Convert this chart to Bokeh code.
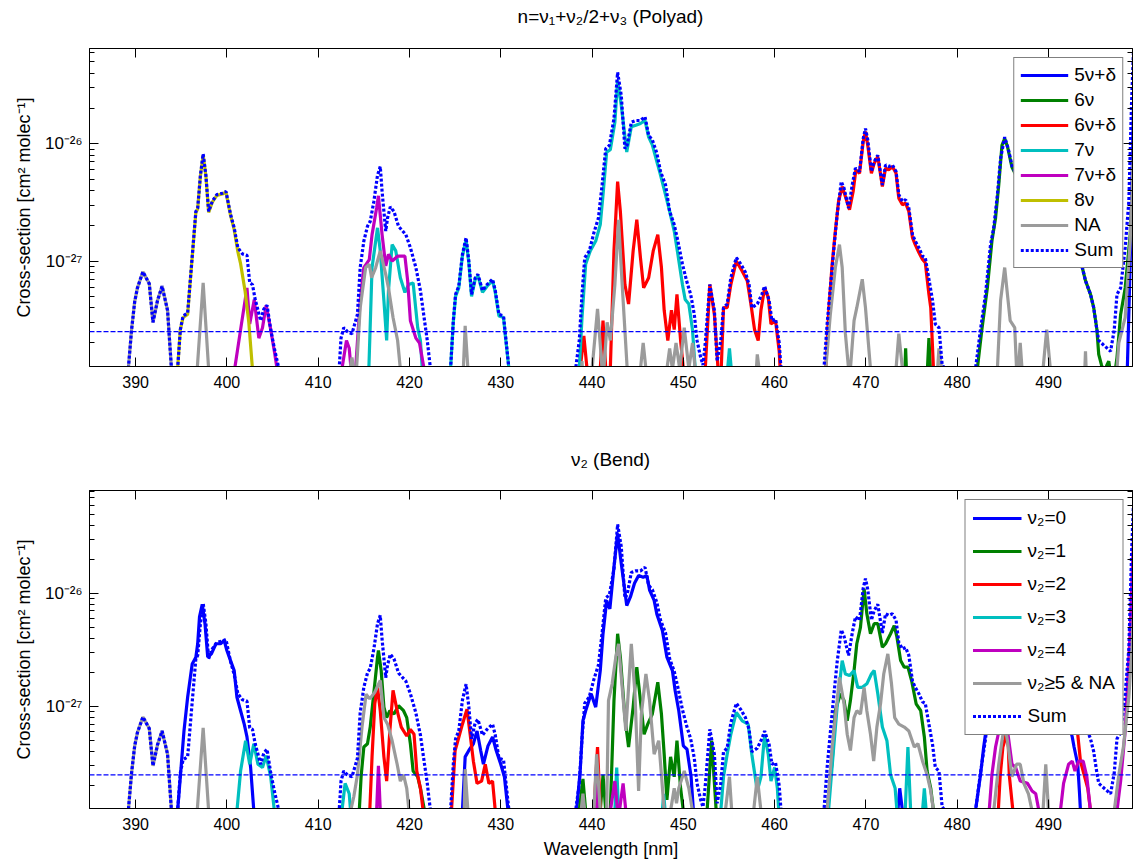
from bokeh.plotting import figure
from bokeh.models import Range1d, FixedTicker, LinearAxis, LogAxis, Span, Div
from bokeh.layouts import column
from bokeh.embed import file_html
from bokeh.resources import INLINE

FONT = "Liberation Sans"
UNIT = 1e-27  # values below are in units of 1e-27 cm^2 molec^-1

X_TICKS = [390, 400, 410, 420, 430, 440, 450, 460, 470, 480, 490]
Y_MAJOR = [1e-27, 1e-26]
Y_MINOR = [k * 1e-28 for k in range(2, 10)] + [k * 1e-27 for k in range(2, 10)] + [k * 1e-26 for k in range(2, 10)]
Y_LABELS = {1e-27: "10⁻²⁷", 1e-26: "10⁻²⁶"}
THRESHOLD = 2.5e-28

# ---------------- Sum (same in both panels) ----------------
SUM = [
    (389.0, 0.05), (389.2, 0.12), (389.56, 0.26), (389.9, 0.45), (390.2, 0.59), (390.8, 0.81), (391.5, 0.64),
    (391.9, 0.30), (392.4, 0.46), (392.9, 0.61), (393.5, 0.38), (393.9, 0.13), (394.25, 0.05),
    (394.6, 0.12), (394.9, 0.26), (395.2, 0.34), (395.7, 0.36), (396.1, 0.88), (396.6, 2.65), (396.8, 2.83),
    (397.1, 5.4), (397.4, 8.2), (397.7, 5.4), (398.0, 2.65), (398.4, 3.23), (398.9, 3.69), (399.5, 3.79),
    (399.9, 3.92), (400.4, 2.5), (400.8, 1.92), (401.2, 1.30), (401.7, 1.15), (402.2, 1.12), (402.5, 0.65),
    (402.8, 0.63), (403.1, 0.47), (403.7, 0.31), (404.05, 0.39), (404.4, 0.42), (404.8, 0.26), (405.2, 0.18),
    (405.7, 0.12), (406.0, 0.05),
    (412.0, 0.05), (412.3, 0.12), (412.5, 0.22), (412.8, 0.27), (413.2, 0.25), (413.7, 0.24), (414.3, 0.35),
    (414.6, 0.88), (415.0, 1.48), (415.4, 1.98), (415.7, 2.18), (416.1, 3.23), (416.5, 5.4), (416.8, 6.4),
    (417.0, 3.92), (417.4, 1.80), (417.6, 2.33), (417.9, 2.9), (418.3, 2.65), (418.8, 1.98), (419.6, 1.68),
    (420.1, 1.30), (420.7, 0.88), (421.2, 0.56), (421.6, 0.33), (421.95, 0.21), (422.3, 0.12), (422.6, 0.05),
    (424.2, 0.05), (424.5, 0.12), (424.8, 0.31), (425.05, 0.52), (425.4, 0.61), (425.8, 1.14), (426.2, 1.58),
    (426.5, 1.0), (426.8, 0.52), (427.2, 0.72), (427.5, 0.77), (428.0, 0.56), (428.5, 0.63), (429.1, 0.70),
    (429.4, 0.56), (429.8, 0.35), (430.3, 0.34), (430.5, 0.24), (430.9, 0.12), (431.2, 0.05),
    (437.9, 0.05), (438.2, 0.12), (438.6, 0.21), (438.9, 0.52), (439.2, 1.07), (439.7, 1.22), (440.2, 1.74),
    (440.7, 2.33), (441.1, 4.46), (441.5, 9.1), (441.9, 9.7), (442.4, 16.4), (442.8, 40.7), (443.2, 25.8),
    (443.6, 9.1), (443.85, 9.8), (444.3, 15.3), (444.8, 15.8), (445.3, 15.8), (445.8, 17.0), (446.2, 11.8),
    (446.6, 10.8), (447.1, 8.3), (447.5, 5.8), (448.05, 4.46), (448.5, 2.65), (449.0, 2.05), (449.4, 1.48),
    (449.9, 0.94), (450.35, 0.68), (450.8, 0.52), (451.2, 0.35), (451.5, 0.21), (451.9, 0.15), (452.15, 0.13),
    (452.4, 0.2), (452.9, 0.63), (453.4, 0.38), (453.7, 0.14), (454.1, 0.21), (454.4, 0.40), (454.8, 0.43),
    (455.2, 0.72), (455.8, 1.07), (456.3, 0.94), (456.8, 0.80), (457.2, 0.63), (457.5, 0.40), (458.1, 0.43),
    (458.6, 0.52), (458.9, 0.61), (459.4, 0.46), (459.7, 0.31), (460.1, 0.32), (460.5, 0.20), (460.7, 0.12),
    (461.0, 0.05),
    (465.1, 0.05), (465.4, 0.12), (465.75, 0.29), (466.1, 0.59), (466.5, 1.30), (466.85, 2.49), (467.3, 4.76),
    (467.6, 4.18), (468.1, 2.83), (468.5, 4.46), (468.85, 6.2), (469.3, 5.8), (469.7, 11.1), (469.95, 13.5),
    (470.2, 10.8), (470.6, 5.8), (470.9, 7.03), (471.3, 8.0), (471.8, 4.46), (472.15, 6.6), (472.5, 6.4),
    (472.9, 6.6), (473.3, 5.8), (473.6, 3.67), (474.0, 3.23), (474.35, 3.33), (474.7, 2.83), (475.1, 1.68),
    (475.4, 1.48), (475.8, 1.30), (476.2, 1.10), (476.5, 1.07), (476.9, 0.70), (477.3, 0.46), (477.6, 0.29),
    (478.0, 0.27), (478.35, 0.13), (478.7, 0.12), (479.0, 0.05),
    (481.7, 0.05), (482.0, 0.12), (482.55, 0.26), (483.1, 0.52), (483.65, 1.38), (484.0, 1.92), (484.4, 3.67),
    (484.75, 7.5), (485.2, 11.4), (485.6, 9.0), (486.0, 6.5), (487.0, 4.5), (488.0, 3.3), (489.0, 2.6),
    (490.0, 2.1), (491.0, 1.7), (492.0, 1.4), (493.0, 1.1), (493.7, 0.88), (494.05, 0.68), (494.6, 0.52),
    (494.95, 0.40), (495.3, 0.26), (495.5, 0.21), (496.1, 0.19), (496.8, 0.17), (497.2, 0.26), (497.5, 0.52),
    (497.9, 0.59), (498.4, 1.30), (498.8, 3.23), (499.1, 22.7), (499.3, 60.0),
]

# ---------------- Top panel: polyad ----------------
P_5NU_D = [(498.5, 0.05), (498.85, 0.5), (499.1, 3.0), (499.3, 20.0)]

P_6NU = [
    (474.1, 0.05), (474.35, 0.18), (474.6, 0.05), (476.5, 0.05), (476.9, 0.22), (477.3, 0.05),
    (481.9, 0.05), (482.2, 0.12), (482.7, 0.26), (483.3, 0.59), (483.8, 1.48), (484.2, 2.33), (484.55, 4.46),
    (484.9, 9.7), (485.2, 11.1), (485.5, 9.5), (486.0, 6.3), (487.0, 4.4), (488.0, 3.2), (489.0, 2.5),
    (490.0, 2.0), (491.0, 1.6), (492.0, 1.3), (493.0, 1.05), (493.7, 0.88), (494.05, 0.68), (494.6, 0.52),
    (494.95, 0.40), (495.3, 0.26), (495.5, 0.16), (495.8, 0.13), (496.1, 0.11), (496.4, 0.13), (496.6, 0.14),
    (496.8, 0.11), (497.2, 0.10), (497.5, 0.15), (497.9, 0.35), (498.4, 0.59), (498.95, 1.68), (499.3, 6.0),
]

P_6NU_D = [
    (438.4, 0.05), (438.7, 0.12), (439.1, 0.23), (439.45, 0.12), (439.7, 0.05),
    (440.8, 0.05), (440.9, 0.12), (441.2, 0.31), (441.5, 0.12), (441.8, 0.05),
    (442.0, 0.12), (442.4, 1.22), (442.8, 4.76), (443.1, 2.65), (443.6, 0.63), (444.0, 0.43), (444.5, 1.22),
    (444.9, 2.25), (445.3, 1.07), (445.65, 0.59), (446.2, 0.72), (446.7, 1.22), (447.2, 1.68), (447.6, 0.88),
    (447.9, 0.38), (448.3, 0.21), (448.7, 0.38), (449.0, 0.26), (449.3, 0.52), (449.7, 0.21), (450.0, 0.12),
    (450.2, 0.05),
    (452.2, 0.05), (452.4, 0.12), (452.9, 0.63), (453.4, 0.35), (453.8, 0.12), (453.95, 0.08), (454.15, 0.12),
    (454.4, 0.40), (454.8, 0.40), (455.2, 0.63), (455.8, 1.0), (456.45, 0.82), (457.0, 0.68), (457.4, 0.43),
    (457.8, 0.26), (458.2, 0.21), (458.5, 0.38), (458.9, 0.59), (459.3, 0.49), (459.6, 0.29), (460.1, 0.31),
    (460.5, 0.17), (460.6, 0.12), (460.9, 0.05),
    (465.3, 0.05), (465.6, 0.12), (465.95, 0.40), (466.3, 0.94), (466.65, 1.80), (467.0, 3.23), (467.4, 4.32),
    (467.75, 3.55), (468.2, 2.74), (468.6, 3.92), (468.9, 6.0), (469.3, 5.6), (469.7, 10.4), (469.95, 12.7),
    (470.2, 9.7), (470.6, 5.6), (470.9, 6.8), (471.3, 7.8), (471.8, 4.32), (472.15, 6.2), (472.5, 6.0),
    (472.9, 6.4), (473.3, 5.6), (473.6, 3.44), (474.0, 3.02), (474.35, 3.12), (474.7, 2.65), (475.1, 1.58),
    (475.4, 1.38), (475.8, 1.18), (476.2, 1.03), (476.5, 0.97), (476.9, 0.52), (477.1, 0.40), (477.4, 0.12),
    (477.6, 0.05),
]

P_7NU = [
    (415.4, 0.05), (415.55, 0.12), (415.9, 0.88), (416.3, 1.48), (416.5, 1.92), (416.8, 1.22), (417.2, 0.46),
    (417.5, 0.21), (417.7, 0.56), (418.1, 1.38), (418.5, 1.22), (419.0, 0.72), (419.5, 0.54), (419.9, 0.63),
    (420.4, 0.65), (420.9, 0.27), (421.2, 0.21), (421.4, 0.12), (421.6, 0.05),
    (424.3, 0.05), (424.5, 0.12), (424.8, 0.30), (425.05, 0.50), (425.4, 0.59), (425.8, 1.10), (426.2, 1.52),
    (426.5, 0.97), (426.8, 0.50), (427.2, 0.70), (427.5, 0.75), (428.0, 0.54), (428.5, 0.61), (429.1, 0.68),
    (429.4, 0.54), (429.8, 0.34), (430.3, 0.33), (430.5, 0.23), (430.9, 0.12), (431.1, 0.05),
    (438.4, 0.05), (438.6, 0.12), (438.9, 0.33), (439.3, 0.94), (439.8, 1.22), (440.4, 1.48), (440.9, 2.05),
    (441.2, 3.67), (441.6, 8.5), (442.0, 8.9), (442.5, 15.3), (442.8, 34.6), (443.2, 21.3), (443.8, 8.5),
    (444.3, 14.0), (444.8, 14.4), (445.3, 14.9), (445.8, 15.8), (446.2, 11.4), (446.6, 9.8), (447.2, 6.6),
    (447.5, 5.4), (448.05, 3.67), (448.5, 2.65), (449.0, 1.80), (449.4, 1.14), (449.9, 0.63), (450.2, 0.47),
    (450.6, 0.43), (451.0, 0.26), (451.3, 0.12), (451.5, 0.05),
    (454.7, 0.05), (454.85, 0.12), (455.05, 0.18), (455.25, 0.12), (455.4, 0.05),
]

P_7NU_D = [
    (400.6, 0.05), (400.85, 0.12), (401.5, 0.26), (402.2, 0.59), (402.5, 0.29), (403.0, 0.47), (403.5, 0.22),
    (403.9, 0.27), (404.3, 0.42), (404.8, 0.26), (405.2, 0.17), (405.5, 0.12), (405.7, 0.05),
    (412.4, 0.05), (412.6, 0.12), (413.1, 0.21), (413.4, 0.18), (413.6, 0.12), (413.8, 0.05), (413.95, 0.05),
    (414.1, 0.12), (414.6, 0.46), (415.0, 0.88), (415.6, 1.03), (415.9, 1.68), (416.4, 2.83), (416.6, 3.6),
    (417.0, 1.68), (417.4, 0.91), (417.7, 1.14), (418.1, 1.0), (418.7, 1.10), (419.5, 1.10), (419.8, 0.68),
    (420.1, 0.31), (420.7, 0.22), (421.1, 0.20), (421.6, 0.12), (421.8, 0.05),
]

P_8NU = [
    (394.4, 0.05), (394.6, 0.12), (394.9, 0.26), (395.2, 0.33), (395.7, 0.35), (396.1, 0.86), (396.6, 2.6),
    (396.8, 2.78), (397.1, 5.3), (397.4, 8.0), (397.7, 5.3), (398.0, 2.6), (398.4, 3.18), (398.9, 3.63),
    (399.5, 3.73), (399.9, 3.86), (400.4, 2.45), (400.8, 1.85), (401.2, 1.20), (401.5, 0.95), (402.0, 0.55),
    (402.4, 0.30), (402.8, 0.12), (403.0, 0.05),
]

P_NA = [
    (389.0, 0.05), (389.2, 0.12), (389.56, 0.26), (389.9, 0.45), (390.2, 0.59), (390.8, 0.81), (391.5, 0.64),
    (391.9, 0.30), (392.4, 0.46), (392.9, 0.61), (393.5, 0.38), (393.9, 0.13), (394.1, 0.05),
    (396.5, 0.05), (396.75, 0.12), (397.4, 0.65), (398.0, 0.12), (398.2, 0.05),
    (413.3, 0.05), (413.5, 0.12), (413.7, 0.15), (413.9, 0.12), (414.2, 0.12), (414.6, 0.40), (415.2, 0.88),
    (415.6, 0.94), (415.85, 0.72), (416.3, 0.88), (416.8, 1.22), (417.4, 0.77), (417.7, 0.59), (418.2, 0.33),
    (418.7, 0.21), (419.0, 0.12), (419.2, 0.05),
    (425.7, 0.05), (425.9, 0.12), (426.1, 0.28), (426.4, 0.12), (426.6, 0.05),
    (438.7, 0.05), (438.9, 0.14), (439.2, 0.05),
    (439.8, 0.05), (440.0, 0.12), (440.6, 0.39), (441.1, 0.12), (441.3, 0.12), (441.65, 0.30), (442.0, 0.21),
    (442.5, 0.63), (442.9, 2.25), (443.3, 0.63), (443.85, 0.12), (444.0, 0.05),
    (445.1, 0.05), (445.3, 0.12), (445.6, 0.20), (445.9, 0.12), (446.1, 0.05),
    (448.0, 0.05), (448.2, 0.12), (448.5, 0.18), (448.8, 0.12), (449.2, 0.20), (449.6, 0.12), (450.1, 0.27),
    (450.6, 0.12), (451.0, 0.20), (451.3, 0.12), (451.5, 0.05),
    (457.8, 0.05), (458.0, 0.12), (458.1, 0.16), (458.3, 0.12), (458.5, 0.05),
    (465.4, 0.05), (465.6, 0.12), (466.1, 0.35), (466.65, 0.88), (467.1, 1.38), (467.4, 0.88), (467.75, 0.24),
    (468.1, 0.12), (468.3, 0.12), (468.7, 0.31), (469.0, 0.40), (469.6, 0.70), (469.95, 0.40), (470.5, 0.12),
    (470.7, 0.05),
    (473.1, 0.05), (473.3, 0.12), (473.6, 0.24), (474.0, 0.12), (474.2, 0.05),
    (477.8, 0.05), (477.85, 0.12), (478.0, 0.18), (478.3, 0.12), (478.5, 0.05),
    (484.2, 0.05), (484.4, 0.12), (484.75, 0.46), (485.2, 0.88), (485.5, 0.52), (485.8, 0.31), (486.3, 0.27),
    (486.5, 0.12), (486.7, 0.12), (486.9, 0.20), (487.1, 0.12), (487.3, 0.05),
    (489.2, 0.05), (489.4, 0.12), (489.8, 0.26), (490.2, 0.12), (490.4, 0.05),
    (493.8, 0.05), (494.05, 0.17), (494.3, 0.05),
    (497.2, 0.05), (497.5, 0.12), (497.7, 0.20), (498.4, 0.33), (498.95, 1.48), (499.3, 10.0),
]

# ---------------- Bottom panel: bend quantum number ----------------
B_V0 = [
    (394.4, 0.05), (394.6, 0.12), (394.9, 0.24), (395.3, 0.61), (395.7, 1.21), (396.2, 2.38), (396.6, 2.73),
    (396.8, 3.59), (397.0, 6.2), (397.3, 8.0), (397.6, 5.4), (397.9, 2.73), (398.3, 2.92), (398.8, 3.59),
    (399.3, 3.59), (399.7, 3.84), (400.0, 3.13), (400.4, 2.55), (400.8, 2.08), (401.1, 1.21), (401.5, 0.92),
    (401.9, 0.70), (402.2, 0.54), (402.6, 0.29), (402.95, 0.12), (403.1, 0.05),
    (425.6, 0.05), (425.8, 0.12), (426.1, 0.36), (426.5, 0.41), (427.0, 0.47), (427.4, 0.61), (427.8, 0.41),
    (428.1, 0.31), (428.6, 0.45), (429.1, 0.54), (429.5, 0.41), (430.0, 0.31), (430.4, 0.24), (430.8, 0.12),
    (431.0, 0.05),
    (438.1, 0.05), (438.3, 0.12), (438.7, 0.27), (439.0, 0.75), (439.3, 0.92), (439.9, 1.30), (440.4, 0.99),
    (440.9, 2.08), (441.2, 4.4), (441.6, 8.66), (441.95, 7.3), (442.4, 17.1), (442.8, 33.8), (443.2, 18.3),
    (443.8, 7.8), (444.2, 9.3), (444.65, 12.3), (445.1, 14.4), (445.6, 13.9), (446.0, 14.4), (446.3, 10.7),
    (446.8, 8.66), (447.1, 6.55), (447.7, 4.70), (448.2, 2.73), (448.8, 2.08), (449.1, 1.39), (449.5, 0.92),
    (450.0, 0.45), (450.4, 0.42), (450.85, 0.24), (451.1, 0.12), (451.3, 0.05),
    (473.4, 0.05), (473.5, 0.12), (473.7, 0.19), (474.0, 0.12), (474.2, 0.05),
    (481.8, 0.05), (482.0, 0.12), (482.55, 0.25), (482.9, 0.44), (483.3, 0.75), (483.8, 1.2), (484.5, 2.0),
    (485.2, 2.5), (486.0, 2.2), (487.0, 1.8), (488.0, 1.5), (489.0, 1.3), (490.0, 1.2), (491.0, 1.0),
    (492.0, 0.8), (492.6, 0.54), (492.8, 0.44), (493.2, 0.31), (493.4, 0.17), (493.5, 0.12), (493.7, 0.05),
]

B_V1 = [
    (414.3, 0.05), (414.5, 0.12), (414.7, 0.24), (415.0, 0.44), (415.4, 0.47), (415.7, 0.66), (416.2, 1.59),
    (416.5, 2.73), (416.6, 3.13), (416.9, 2.08), (417.2, 0.99), (417.5, 0.80), (417.85, 0.92), (418.3, 0.86),
    (418.8, 1.02), (419.35, 0.92), (419.7, 0.80), (420.1, 0.47), (420.4, 0.27), (420.9, 0.24), (421.2, 0.19),
    (421.65, 0.12), (421.8, 0.05),
    (438.4, 0.05), (438.6, 0.12), (439.0, 0.23), (439.3, 0.12), (439.5, 0.05),
    (440.7, 0.05), (440.9, 0.12), (441.2, 0.25), (441.5, 0.12), (441.7, 0.05), (441.9, 0.08),
    (442.0, 0.12), (442.4, 1.13), (442.8, 4.4), (443.1, 2.73), (443.6, 0.80), (444.0, 0.44), (444.5, 0.99),
    (444.9, 2.23), (445.3, 1.13), (445.7, 0.57), (446.1, 0.70), (446.6, 0.86), (447.2, 1.64), (447.6, 0.86),
    (447.9, 0.38), (448.2, 0.15), (448.6, 0.36), (449.0, 0.24), (449.3, 0.50), (449.7, 0.19), (450.0, 0.12),
    (450.2, 0.05),
    (452.4, 0.05), (452.6, 0.12), (453.1, 0.50), (453.6, 0.12), (453.8, 0.05),
    (465.6, 0.05), (465.75, 0.12), (466.3, 0.33), (466.65, 0.92), (467.2, 1.30), (467.6, 1.13), (467.95, 0.75),
    (468.3, 1.13), (468.7, 2.08), (469.0, 3.59), (469.4, 5.0), (469.8, 11.0), (470.1, 6.6), (470.5, 4.40),
    (470.9, 5.4), (471.3, 5.4), (471.8, 3.35), (472.15, 3.59), (472.7, 4.40), (473.1, 5.2), (473.4, 4.1),
    (473.8, 2.55), (474.2, 2.23), (474.6, 2.23), (475.0, 1.70), (475.5, 1.06), (476.0, 0.92), (476.4, 0.54),
    (476.7, 0.27), (477.1, 0.19), (477.4, 0.12), (477.6, 0.05),
]

# None marks a break in the line (the trace continues hidden behind the legend)
B_V2 = [
    (415.5, 0.05), (415.65, 0.12), (415.9, 0.36), (416.2, 1.06), (416.5, 1.48), (416.8, 0.92), (417.2, 0.36),
    (417.5, 0.22), (417.85, 0.61), (418.2, 1.39), (418.65, 0.92), (419.1, 0.66), (419.7, 0.55), (420.1, 0.63),
    (420.5, 0.57), (420.8, 0.27), (421.2, 0.19), (421.5, 0.12), (421.7, 0.05),
    (424.4, 0.05), (424.6, 0.12), (425.0, 0.41), (425.3, 0.50), (425.8, 0.70), (426.3, 0.95), (426.6, 0.61),
    (427.0, 0.33), (427.4, 0.21), (427.9, 0.22), (428.3, 0.31), (428.7, 0.21), (429.1, 0.22), (429.4, 0.12),
    (429.6, 0.05),
    (440.0, 0.05), (440.2, 0.12), (440.6, 0.44), (440.9, 0.12), (441.1, 0.05),
    (484.3, 0.05), (484.5, 0.12), (484.7, 0.24), (485.0, 0.44), (485.2, 0.50), (485.4, 0.6), (485.6, 0.44),
    (485.7, 0.25), (486.1, 0.12), (486.3, 0.05),
    (489.0, None),
    (492.2, 2.0), (492.8, 0.9), (493.2, 0.57), (493.5, 0.33), (493.9, 0.25), (494.3, 0.19), (494.6, 0.12),
    (494.8, 0.05),
]

B_V3 = [
    (401.0, 0.05), (401.1, 0.12), (401.5, 0.27), (402.05, 0.50), (402.5, 0.31), (402.95, 0.47), (403.4, 0.31),
    (403.9, 0.29), (404.3, 0.37), (404.8, 0.24), (405.2, 0.12), (405.4, 0.05),
    (412.4, 0.05), (412.6, 0.12), (412.95, 0.21), (413.4, 0.17), (413.55, 0.12), (413.7, 0.05),
    (442.3, 0.05), (442.5, 0.12), (442.7, 0.29), (442.9, 0.12), (443.1, 0.05),
    (447.6, 0.05), (447.7, 0.12), (447.85, 0.17), (448.0, 0.12), (448.2, 0.05),
    (453.9, 0.05), (454.1, 0.12), (454.4, 0.24), (454.8, 0.38), (455.2, 0.57), (455.8, 0.89), (456.45, 0.75),
    (457.1, 0.70), (457.5, 0.38), (458.1, 0.18), (458.5, 0.24), (458.9, 0.57), (459.3, 0.38), (459.6, 0.22),
    (460.0, 0.29), (460.3, 0.19), (460.45, 0.12), (460.6, 0.05),
    (465.7, 0.05), (465.9, 0.12), (466.5, 0.47), (466.9, 1.13), (467.4, 2.55), (467.75, 1.94), (468.2, 1.88),
    (468.7, 2.08), (469.1, 1.48), (469.6, 1.48), (470.1, 1.59), (470.6, 1.94), (470.9, 2.08), (471.3, 1.30),
    (471.8, 0.66), (472.3, 0.50), (472.7, 0.25), (473.2, 0.19), (473.4, 0.12), (473.6, 0.05),
    (474.1, 0.05), (474.3, 0.12), (474.6, 0.44), (474.9, 0.12), (475.1, 0.05),
    (476.1, 0.05), (476.2, 0.12), (476.4, 0.19), (476.6, 0.12), (476.8, 0.05),
]

B_V4 = [
    (416.3, 0.05), (416.4, 0.12), (416.6, 0.30), (416.8, 0.12), (417.0, 0.05),
    (440.3, 0.05), (440.4, 0.12), (440.6, 0.22), (440.8, 0.12), (440.9, 0.05),
    (441.9, 0.05), (442.0, 0.12), (442.5, 0.22), (442.8, 0.12), (443.0, 0.12), (443.4, 0.21), (443.7, 0.12),
    (443.9, 0.05),
    (483.3, 0.05), (483.5, 0.12), (483.8, 0.25), (484.2, 0.44), (484.55, 0.60), (485.0, 0.9), (485.4, 0.7),
    (485.6, 0.54), (486.0, 0.31), (486.4, 0.29), (486.9, 0.22), (487.7, 0.21), (488.2, 0.18), (488.6, 0.17),
    (488.95, 0.12), (489.1, 0.05),
    (491.1, 0.05), (491.3, 0.12), (491.65, 0.21), (492.2, 0.31), (492.6, 0.33), (492.9, 0.27), (493.3, 0.33),
    (493.8, 0.33), (494.2, 0.24), (494.6, 0.12), (494.8, 0.05),
    (497.3, 0.05), (497.5, 0.12), (497.9, 0.22), (498.4, 0.61), (498.95, 4.7), (499.3, 30.0),
]

B_V5NA = [
    (389.0, 0.05), (389.2, 0.12), (389.56, 0.26), (389.9, 0.45), (390.2, 0.59), (390.8, 0.81), (391.5, 0.64),
    (391.9, 0.30), (392.4, 0.46), (392.9, 0.61), (393.5, 0.38), (393.9, 0.13), (394.1, 0.05),
    (396.5, 0.05), (396.75, 0.12), (397.4, 0.65), (398.0, 0.12), (398.2, 0.05),
    (413.4, 0.05), (413.55, 0.12), (413.9, 0.16), (414.3, 0.25), (414.8, 0.66), (415.25, 1.29), (415.65, 1.17),
    (416.2, 1.34), (416.8, 1.70), (417.2, 0.80), (417.6, 0.70), (418.1, 0.50), (418.65, 0.31), (419.0, 0.22),
    (419.35, 0.25), (419.7, 0.19), (419.95, 0.12), (420.1, 0.05),
    (425.8, 0.05), (426.0, 0.12), (426.1, 0.28), (426.4, 0.12), (426.6, 0.05),
    (438.7, 0.05), (438.8, 0.12), (439.0, 0.17), (439.2, 0.12), (439.4, 0.05),
    (440.0, 0.05), (440.2, 0.12), (440.5, 0.38), (440.9, 0.12), (441.1, 0.05),
    (441.4, 0.05), (441.6, 0.12), (441.8, 1.13), (442.2, 1.59), (442.6, 2.73), (442.9, 3.59), (443.3, 1.48),
    (443.7, 0.61), (444.0, 1.48), (444.3, 3.59), (444.7, 1.30), (445.1, 0.18), (445.4, 0.86), (445.9, 1.94),
    (446.3, 1.13), (446.8, 0.38), (447.3, 0.50), (447.6, 0.25), (447.9, 0.12), (448.1, 0.05),
    (448.4, 0.05), (448.6, 0.12), (449.0, 0.19), (449.25, 0.14), (449.5, 0.19), (450.1, 0.27), (450.6, 0.19),
    (451.0, 0.12), (451.2, 0.05),
    (454.5, 0.05), (454.6, 0.12), (455.05, 0.24), (455.3, 0.12), (455.5, 0.05),
    (457.5, 0.05), (457.7, 0.12), (458.1, 0.24), (458.5, 0.12), (458.7, 0.05),
    (465.6, 0.05), (465.75, 0.12), (466.3, 0.44), (466.85, 1.13), (467.1, 1.81), (467.6, 1.06), (467.95, 0.57),
    (468.3, 0.41), (468.7, 0.80), (469.0, 0.92), (469.4, 0.86), (469.8, 1.48), (470.1, 0.92), (470.5, 0.57),
    (470.85, 0.33), (471.2, 0.66), (471.6, 1.06), (471.95, 1.94), (472.4, 2.92), (472.8, 1.59), (473.15, 0.80),
    (473.6, 0.70), (474.2, 0.66), (474.7, 0.61), (475.3, 0.44), (475.7, 0.47), (476.2, 0.33), (476.7, 0.25),
    (477.1, 0.18), (477.4, 0.12), (477.6, 0.05),
    (483.8, 0.05), (484.0, 0.12), (484.55, 0.31), (484.9, 0.50), (485.2, 0.7), (485.5, 0.50), (486.0, 0.24),
    (486.5, 0.31), (486.9, 0.31), (487.3, 0.21), (487.8, 0.17), (488.2, 0.12), (488.4, 0.05),
    (489.2, 0.05), (489.4, 0.12), (489.7, 0.31), (490.0, 0.12), (490.2, 0.05),
    (496.9, 0.05), (497.2, 0.12), (497.7, 0.25), (498.2, 0.44), (498.8, 1.21), (499.2, 4.1), (499.4, 10.0),
]

TOP_SERIES = [
    ("5ν+δ", P_5NU_D, "#0000FF"),
    ("6ν", P_6NU, "#008000"),
    ("6ν+δ", P_6NU_D, "#FF0000"),
    ("7ν", P_7NU, "#00BFBF"),
    ("7ν+δ", P_7NU_D, "#BF00BF"),
    ("8ν", P_8NU, "#BFBF00"),
    ("NA", P_NA, "#9B9B9B"),
]
BOTTOM_SERIES = [
    ("ν₂=0", B_V0, "#0000FF"),
    ("ν₂=1", B_V1, "#008000"),
    ("ν₂=2", B_V2, "#FF0000"),
    ("ν₂=3", B_V3, "#00BFBF"),
    ("ν₂=4", B_V4, "#BF00BF"),
    ("ν₂≥5 & NA", B_V5NA, "#9B9B9B"),
]


def xy(pts):
    xs = [p[0] for p in pts]
    ys = [float("nan") if p[1] is None else p[1] * UNIT for p in pts]
    return xs, ys


def style_axis(ax, show_labels=True, minor=True):
    ax.axis_line_color = "black"
    ax.axis_line_width = 1
    ax.major_tick_line_color = "black"
    ax.major_tick_in = 9
    ax.major_tick_out = 0
    ax.minor_tick_in = 5
    ax.minor_tick_out = 0
    ax.minor_tick_line_color = "black" if minor else None
    ax.major_label_text_font = FONT
    ax.major_label_text_font_size = "16px"
    if show_labels:
        ax.major_label_text_color = "black"
    else:
        ax.major_label_text_color = None
        ax.major_label_standoff = 0


def heading(text, height, line_height):
    return Div(text=text, width=1043, height=height, margin=(0, 5, 0, 89),
               styles={"text-align": "center", "font-family": FONT, "font-size": "19px",
                       "color": "black", "line-height": f"{line_height}px", "white-space": "nowrap"})


def make_fig(height, top, bottom, y_top, series, legend_cfg, xlabel=None):
    p = figure(width=1137, height=height, y_axis_type="log",
               x_range=Range1d(384.95, 499.2), y_range=Range1d(1.26e-28, y_top),
               output_backend="svg", toolbar_location=None,
               min_border_left=89, min_border_right=5, min_border_top=top, min_border_bottom=bottom)
    p.grid.visible = False
    p.outline_line_color = "black"
    p.background_fill_color = "white"

    xa = p.xaxis[0]
    xa.ticker = FixedTicker(ticks=X_TICKS)
    style_axis(xa, True, minor=False)
    xa.major_label_standoff = 9
    if xlabel:
        xa.axis_label = xlabel
        xa.axis_label_text_font = FONT
        xa.axis_label_text_font_size = "18px"
        xa.axis_label_text_font_style = "normal"
        xa.axis_label_text_color = "black"
        xa.axis_label_standoff = 6

    ya = p.yaxis[0]
    ya.ticker = FixedTicker(ticks=Y_MAJOR, minor_ticks=Y_MINOR)
    style_axis(ya, True)
    ya.major_label_text_font_size = "17px"
    ya.major_label_overrides = Y_LABELS
    ya.major_label_standoff = 7
    ya.axis_label = "Cross-section [cm² molec⁻¹]"
    ya.axis_label_text_font = FONT
    ya.axis_label_text_font_size = "18px"
    ya.axis_label_text_font_style = "normal"
    ya.axis_label_text_color = "black"
    ya.axis_label_standoff = 8

    top_ax = LinearAxis(ticker=FixedTicker(ticks=X_TICKS))
    style_axis(top_ax, False, minor=False)
    p.add_layout(top_ax, "above")
    right_ax = LogAxis(ticker=FixedTicker(ticks=Y_MAJOR, minor_ticks=Y_MINOR))
    style_axis(right_ax, False)
    p.add_layout(right_ax, "right")

    for label, pts, color in series:
        x, y = xy(pts)
        p.line(x, y, line_color=color, line_width=3.2, legend_label=label)
    sx, sy = xy(SUM)
    p.line(sx, sy, line_color="#0000FF", line_width=3.2, line_dash="3 2", legend_label="Sum")

    p.add_layout(Span(location=THRESHOLD, dimension="width", line_color="#0000FF",
                      line_width=1.2, line_dash="5 2"))

    lg = p.legend[0]
    lg.location = "top_right"
    lg.margin = 9
    lg.border_line_color = "black"
    lg.border_line_width = 1
    lg.background_fill_color = "white"
    lg.background_fill_alpha = 1.0
    lg.label_text_font = FONT
    lg.label_text_font_size = "19px"
    lg.label_text_color = "black"
    for k, v in legend_cfg.items():
        setattr(lg, k, v)
    return p


h1 = heading("n=ν₁+ν₂/2+ν₃ (Polyad)", 34, 34)
p1 = make_fig(396, 14, 64, 6.5e-26, TOP_SERIES,
              dict(glyph_width=48, glyph_height=20, label_height=20, spacing=3, padding=6,
                   label_standoff=6))
h2 = heading("ν₂ (Bend)", 46, 60)
p2 = make_fig(390, 14, 58, 8.1e-26, BOTTOM_SERIES,
              dict(glyph_width=49, glyph_height=22, label_height=22, spacing=11, padding=7,
                   label_standoff=6),
              xlabel="Wavelength [nm]")

layout = column(h1, p1, h2, p2, spacing=0)
open("out.html", "w").write(file_html(layout, INLINE))
